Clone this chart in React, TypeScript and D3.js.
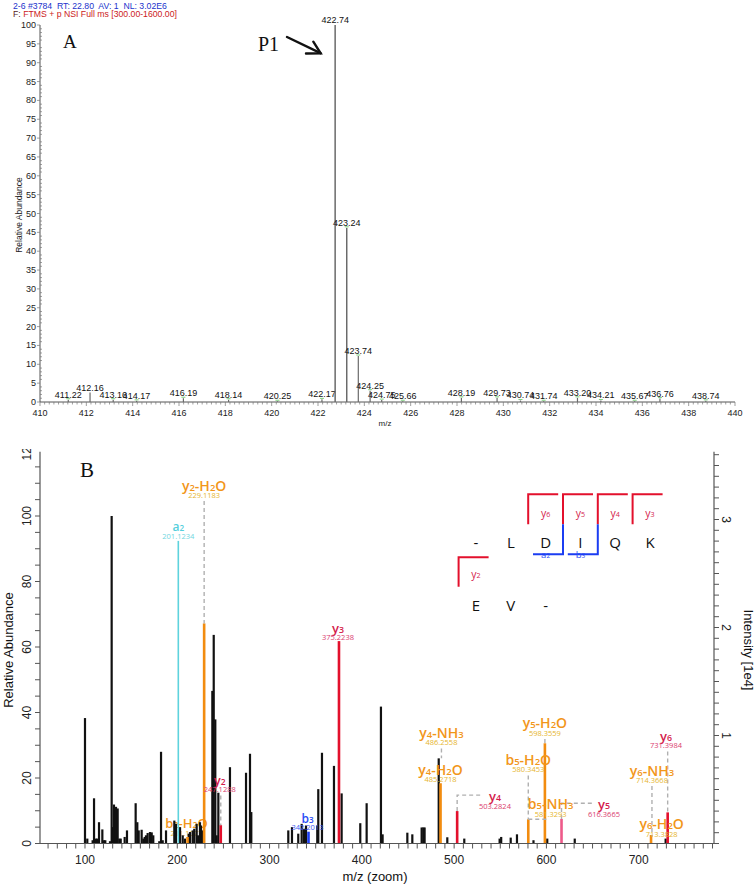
import React from "react";
import * as d3 from "d3";

// ---------------- Panel A data (full MS) ----------------
const headerLine1 = "2-6 #3784  RT: 22.80  AV: 1  NL: 3.02E6";
const headerLine2 = "FTMS + p NSI Full ms [300.00-1600.00]";
const msMz = [411.22, 412.16, 413.16, 414.17, 416.19, 418.14, 420.25, 422.17, 422.74, 423.24, 423.74, 424.25, 424.75, 425.66, 428.19, 429.73, 430.74, 431.74, 433.2, 434.21, 435.67, 436.76, 438.74];
const msAbund = [0.6, 2.5, 0.6, 0.3, 1.0, 0.6, 0.2, 0.7, 100, 46.2, 12.2, 3.0, 0.5, 0.2, 1.1, 1.1, 0.4, 0.2, 1.1, 0.4, 0.2, 0.9, 0.3];
const msXTicks = d3.range(410, 441, 2);
const msYTicks = d3.range(0, 101, 5);

// ---------------- Panel B data (MS/MS) ----------------
const fragMz = [100.0, 102.5, 108.3, 109.8, 111.9, 113.4, 115.2, 118.8, 120.6, 122.0, 127.1, 128.9, 130.0, 131.4, 133.6, 135.4, 137.2, 138.7, 143.0, 145.5, 154.9, 156.7, 158.2, 161.4, 163.2, 164.7, 166.1, 167.9, 170.4, 172.3, 174.0, 180.5, 182.4, 184.2, 187.8, 196.8, 198.6, 203.0, 205.9, 208.4, 212.4, 213.8, 216.7, 218.4, 221.0, 222.4, 224.6, 225.7, 227.1, 238.0, 239.5, 241.2, 242.7, 244.5, 257.1, 274.5, 278.8, 280.2, 320.3, 324.3, 331.1, 334.8, 337.3, 339.5, 351.7, 352.8, 356.8, 369.8, 378.1, 398.3, 405.2, 420.7, 422.5, 449.3, 454.7, 464.8, 466.6, 468.0, 483.3, 492.6, 511.0, 549.3, 551.0, 561.3, 568.1, 586.0, 600.9, 630.7, 729.2];
const fragRel = [38.3, 1.5, 1.0, 13.8, 1.5, 1.5, 6.5, 4.3, 1.0, 1.0, 0.7, 100, 5.0, 11.9, 11.2, 10.7, 1.5, 1.5, 2.0, 4.0, 12.3, 6.5, 4.0, 4.2, 1.5, 2.0, 2.5, 3.2, 3.5, 3.4, 2.5, 0.7, 28.0, 1.0, 4.0, 7.0, 6.0, 5.0, 2.5, 1.5, 3.0, 3.5, 4.0, 4.5, 6.0, 2.5, 6.5, 5.5, 4.0, 46.6, 63.7, 37.9, 2.5, 15.5, 23.3, 21.6, 27.4, 9.6, 4.0, 5.0, 3.0, 6.0, 4.5, 5.5, 5.5, 16.6, 27.7, 23.7, 15.3, 6.2, 12.3, 41.8, 2.8, 3.3, 2.8, 4.9, 4.9, 4.9, 26.0, 1.9, 1.5, 1.5, 2.0, 1.8, 2.8, 1.0, 1.5, 1.5, 1.5];

const ionNames = ["a2", "b2-H2O", "y2-H2O", "y2", "b3", "y3", "y4-NH3", "y4-H2O", "y4", "b5-H2O", "b5-NH3", "y5-H2O", "y5", "y6-NH3", "y6-H2O", "y6"];
const ionMz = [201.1234, 211.1077, 229.1183, 247.1288, 342.2013, 375.2238, 486.2558, 485.2718, 503.2824, 580.3453, 581.3293, 598.3559, 616.3665, 714.3668, 713.3828, 731.3984];
const ionMzText = ["201.1234", "211.1077", "229.1183", "247.1288", "342.2013", "375.2238", "486.2558", "485.2718", "503.2824", "580.3453", "581.3293", "598.3559", "616.3665", "714.3668", "713.3828", "731.3984"];
const ionRel = [92.4, 2.0, 67.2, 5.6, 3.6, 61.8, 26.0, 18.4, 9.9, 7.4, 7.4, 30.6, 7.5, 2.1, 2.6, 9.5];
const ionHasBar = [true, true, true, true, true, true, false, true, true, true, false, true, true, false, true, true];

const zoomTicks = [100, 200, 300, 400, 500, 600, 700];
const relTicks = [0, 20, 40, 60, 80, 100, 120];
const intTicks = [1, 2, 3];

const seqTop = ["-", "L", "D", "I", "Q", "K"];
const seqBottom = ["E", "V", "-"];
const yFragTop = ["y6", "y5", "y4", "y3"];
const bFrag = ["a2", "b3"];
const yFragBottom = ["y2"];

// label layout (pixel offsets), not data
type Conn = "none" | "v" | "elbow" | "h";
const ionLayout: { dx: number; lift: number; conn: Conn; rise?: number; run?: number; size: number; under?: boolean }[] = [
  { dx: 0, lift: 2, conn: "none", size: 12 },
  { dx: -1, lift: 1, conn: "none", size: 13, under: true },
  { dx: 0, lift: 125.4, conn: "v", size: 14 },
  { dx: -1, lift: 32.7, conn: "v", size: 12.5 },
  { dx: -1, lift: 1.7, conn: "none", size: 12 },
  { dx: -1, lift: 1, conn: "none", size: 13 },
  { dx: 0, lift: 12.9, conn: "v", size: 14 },
  { dx: 0, lift: 1.2, conn: "none", size: 14 },
  { dx: 37.8, lift: 2.1, conn: "elbow", rise: 16, run: 23, size: 13 },
  { dx: 0, lift: 46.8, conn: "v", size: 14 },
  { dx: 21.5, lift: 2.3, conn: "h", run: 18, size: 14 },
  { dx: 0, lift: 7.3, conn: "v", size: 14 },
  { dx: 42.5, lift: 2, conn: "elbow", rise: 15.7, run: 31.5, size: 13 },
  { dx: 0, lift: 53.6, conn: "v", size: 14 },
  { dx: 10.6, lift: -2, conn: "none", size: 14 },
  { dx: -1.7, lift: 63.9, conn: "v", size: 13 },
];

const ORANGE = "#f28c0f";
const RED = "#e3102c";
function ionColors(name: string) {
  if (name.startsWith("a")) return { bar: "#5ed3dd", label: "#55cfdc", num: "#6fd6e0" };
  if (name.includes("-")) return { bar: ORANGE, label: "#f2961a", num: "#e6b52c" };
  if (name.startsWith("b")) return { bar: "#1b3df2", label: "#2a4cf5", num: "#3a5af5" };
  if (name === "y5") return { bar: "#ee5a8a", label: "#d41c4c", num: "#da3c6e" };
  return { bar: RED, label: "#d41c4c", num: "#da3c6e" };
}

const SANS = "'Liberation Sans', Arial, sans-serif";
const ION_FONT = "'Open Sans', 'DejaVu Sans', sans-serif";
const SERIF = "'Liberation Serif', 'Times New Roman', serif";

function IonText({ name, x, y, size, fill, weight = 400 }: { name: string; x: number; y: number; size: number; fill: string; weight?: number }) {
  const parts = name.match(/(\d+|[^\d]+)/g) || [];
  return (
    <text x={x} y={y} fontSize={size} fill={fill} textAnchor="middle" fontFamily={ION_FONT} fontWeight={weight}>
      {parts.map((p, i) =>
        /\d/.test(p) ? (
          <tspan key={i} fontSize={size * 0.68}>{p}</tspan>
        ) : (
          <tspan key={i}>{p}</tspan>
        )
      )}
    </text>
  );
}

export default function App() {
  // ---- Panel A scales ----
  const xA = d3.scaleLinear().domain([410, 440]).range([40, 735]);
  const yA = d3.scaleLinear().domain([0, 100]).range([402, 25]);
  const xMinorA = d3.range(0, 151).map((i) => 410 + i * 0.2);
  const yMinorA = d3.range(0, 101);

  // ---- Panel B scales ----
  const xB = d3.scaleLinear().domain([51.25, 781.6]).range([40, 714]);
  const yB = d3.scaleLinear().domain([0, 100]).range([843.5, 516]);
  const yI = d3.scaleLinear().domain([0, 3]).range([843.5, 519.5]);
  const bTop = 451.7;
  const xMinorB = d3.range(60, 781, 10);
  const yMinorB = d3.range(0, 116, 5);
  const iMinor = d3.range(0, 37).map((i) => i * 0.1);

  const seqX = d3.scalePoint<number>().domain(d3.range(6)).range([476, 650]);
  const step = seqX.step();
  const cutX = (k: number) => (seqX(k)! - step / 2);

  const ions = ionNames.map((n, i) => {
    const x = xB(ionMz[i]);
    const top = yB(ionRel[i]);
    const L = ionLayout[i];
    const numBase = top - L.lift;
    return { name: n, x, top, L, numBase, nameBase: numBase - 7.5, col: ionColors(n), hasBar: ionHasBar[i], mzText: ionMzText[i] };
  });

  const renderLabel = (o: (typeof ions)[number], i: number) => (
    <g key={"lab" + i}>
      <IonText name={o.name} x={o.x + o.L.dx} y={o.nameBase} size={o.L.size} fill={o.col.label} weight={600} />
      <text x={o.x + o.L.dx} y={o.numBase} fontSize={7.5} fill={o.col.num} textAnchor="middle" fontFamily={ION_FONT}>
        {o.mzText}
      </text>
    </g>
  );

  return (
    <svg width={756} height={891} style={{ position: "absolute", left: 0, top: 0, background: "#fff" }}>
      <rect width={756} height={891} fill="#fff" />
      <defs>
        <clipPath id="leftLabClip">
          <rect x={0} y={449} width={40} height={430} />
        </clipPath>
      </defs>

      {/* ================= Panel A ================= */}
      <text x={13} y={8.5} fontSize={8.7} fill="#2233cc" fontFamily={SANS} xmlSpace="preserve">
        {headerLine1}
      </text>
      <text x={13} y={17} fontSize={8.7} fontFamily={SANS}>
        <tspan fill="#552222">F: </tspan>
        <tspan fill="#cc1a22">{headerLine2}</tspan>
      </text>

      {/* Y axis A */}
      <line x1={40} x2={40} y1={yA(100)} y2={yA(0)} stroke="#555" strokeWidth={1} />
      {yMinorA.map((v) => (
        <line key={"yma" + v} x1={40} x2={v % 5 === 0 ? 37 : 42} y1={yA(v)} y2={yA(v)} stroke="#777" strokeWidth={0.7} />
      ))}
      {msYTicks.map((v) => (
        <text key={"yta" + v} x={36} y={yA(v) + 3} fontSize={9} textAnchor="end" fill="#222" fontFamily={SANS}>
          {v}
        </text>
      ))}
      <text transform={`translate(22,215) rotate(-90)`} fontSize={8.5} textAnchor="middle" fill="#222" fontFamily={SANS}>
        Relative Abundance
      </text>

      {/* X axis A */}
      <line x1={40} x2={735} y1={402} y2={402} stroke="#555" strokeWidth={1} />
      {xMinorA.map((v, i) => (
        <line key={"xma" + i} x1={xA(v)} x2={xA(v)} y1={402} y2={i % 10 === 0 ? 406 : 404.5} stroke="#777" strokeWidth={0.7} />
      ))}
      {msXTicks.map((v) => (
        <text key={"xta" + v} x={xA(v)} y={416} fontSize={9} textAnchor="middle" fill="#222" fontFamily={SANS}>
          {v}
        </text>
      ))}
      <text x={385} y={426} fontSize={8} textAnchor="middle" fill="#222" fontFamily={SANS}>
        m/z
      </text>

      {/* Peaks A */}
      {msMz.map((m, i) => (
        <g key={"pa" + i}>
          <line x1={xA(m)} x2={xA(m)} y1={yA(0)} y2={yA(msAbund[i])} stroke="#6a6a6a" strokeWidth={msAbund[i] > 40 ? 1.5 : 1.2} />
          {msAbund[i] < 50 && m !== 412.16 ? (
            <line x1={xA(m) - 2} x2={xA(m) + 2} y1={yA(msAbund[i]) - 1} y2={yA(msAbund[i]) - 1} stroke="#7ed07e" strokeWidth={1} />
          ) : null}
          <text x={xA(m)} y={yA(msAbund[i]) - 2} fontSize={9} textAnchor="middle" fill="#111" fontFamily={SANS}>
            {m.toFixed(2)}
          </text>
        </g>
      ))}

      <text x={63} y={48} fontSize={19} fill="#111" fontFamily={SERIF}>
        A
      </text>
      <text x={258} y={51} fontSize={20} fill="#111" fontFamily={SERIF}>
        P1
      </text>
      <g stroke="#111" strokeWidth={2.4} fill="none" strokeLinecap="round">
        <line x1={287} y1={37} x2={320.5} y2={53.2} />
        <polyline points="306,53.5 320.7,53.3 313.3,41.7" />
      </g>

      {/* ================= Panel B ================= */}
      <text x={80} y={477} fontSize={21} fill="#111" fontFamily={SERIF}>
        B
      </text>

      {/* b2-H2O label beneath bars */}
      {ions.map((o, i) => (o.L.under ? renderLabel(o, i) : null))}

      {/* black peaks */}
      {fragMz.map((m, i) => (
        <rect key={"pb" + i} x={xB(m) - 1.1} width={2.2} y={yB(fragRel[i])} height={yB(0) - yB(fragRel[i])} fill="#111" />
      ))}

      {/* annotated peaks */}
      {ions.map((o, i) =>
        o.hasBar ? (
          <rect
            key={"ib" + i}
            x={o.x - (o.name.startsWith("a") ? 0.8 : 1.3)}
            width={o.name.startsWith("a") ? 1.6 : 2.6}
            y={o.top}
            height={yB(0) - o.top}
            fill={o.col.bar}
          />
        ) : null
      )}

      {/* connectors */}
      <g stroke="#b0b0b0" strokeWidth={1.4} strokeDasharray="4 3" fill="none">
        {ions.map((o, i) => {
          const L = o.L;
          if (L.conn === "v") return <line key={"c" + i} x1={o.x} x2={o.x} y1={o.numBase + 3} y2={o.top} />;
          if (L.conn === "elbow")
            return <polyline key={"c" + i} points={`${o.x},${o.top} ${o.x},${o.top - (L.rise || 0)} ${o.x + (L.run || 0)},${o.top - (L.rise || 0)}`} />;
          if (L.conn === "h") return <line key={"c" + i} x1={o.x - 0.9} x2={o.x - 0.9 + (L.run || 0)} y1={o.top} y2={o.top} />;
          return null;
        })}
      </g>

      {/* labels */}
      {ions.map((o, i) => (o.L.under ? null : renderLabel(o, i)))}

      {/* Axes B */}
      <line x1={40} x2={40} y1={bTop} y2={yB(0)} stroke="#555" strokeWidth={1.2} />
      <line x1={714} x2={714} y1={bTop} y2={yB(0)} stroke="#555" strokeWidth={1.2} />
      <line x1={40} x2={714} y1={yB(0)} y2={yB(0)} stroke="#555" strokeWidth={1.2} />
      {yMinorB.map((v) => (
        <line key={"ymb" + v} x1={35} x2={40} y1={yB(v)} y2={yB(v)} stroke="#555" strokeWidth={1} />
      ))}
      <g clipPath="url(#leftLabClip)">
        {relTicks.map((v) => (
          <text key={"ytb" + v} transform={`translate(31,${yB(v)}) rotate(-90)`} fontSize={12} textAnchor="middle" fill="#222" fontFamily={SANS}>
            {v}
          </text>
        ))}
      </g>
      <text transform={`translate(13,650) rotate(-90)`} fontSize={13} textAnchor="middle" fill="#111" fontFamily={SANS}>
        Relative Abundance
      </text>

      {iMinor.map((v, i) => (
        <line key={"im" + i} x1={714} x2={719} y1={yI(v)} y2={yI(v)} stroke="#555" strokeWidth={1} />
      ))}
      {intTicks.map((v) => (
        <text key={"it" + v} transform={`translate(722,${yI(v)}) rotate(90)`} fontSize={12} textAnchor="middle" fill="#222" fontFamily={SANS}>
          {v}
        </text>
      ))}
      <text transform={`translate(744,650) rotate(90)`} fontSize={13} textAnchor="middle" fill="#111" fontFamily={SANS}>
        Intensity [1e4]
      </text>

      {xMinorB.map((v) => (
        <line key={"xmb" + v} x1={xB(v)} x2={xB(v)} y1={yB(0)} y2={yB(0) + 5} stroke="#555" strokeWidth={1} />
      ))}
      {zoomTicks.map((v) => (
        <text key={"xtb" + v} x={xB(v)} y={864} fontSize={12} textAnchor="middle" fill="#222" fontFamily={SANS}>
          {v}
        </text>
      ))}
      <text x={375} y={881} fontSize={13} textAnchor="middle" fill="#111" fontFamily={SANS}>
        m/z (zoom)
      </text>

      {/* Fragment diagram */}
      <g fontFamily={ION_FONT}>
        {seqTop.map((s, i) => (
          <text key={"st" + i} x={seqX(i)} y={548} fontSize={15} textAnchor="middle" fill="#111">
            {s}
          </text>
        ))}
        {seqBottom.map((s, i) => (
          <text key={"sb" + i} x={seqX(i)} y={610.5} fontSize={15} textAnchor="middle" fill="#111">
            {s}
          </text>
        ))}
        {yFragTop.map((lab, j) => {
          const k = j + 2;
          const cx = cutX(k);
          return (
            <g key={"yf" + j}>
              <polyline points={`${cx},524.3 ${cx},494.3 ${cx + 30},494.3`} fill="none" stroke={RED} strokeWidth={2} />
              <IonText name={lab} x={seqX(k)!} y={517} size={10.5} fill="#d41c4c" />
            </g>
          );
        })}
        {bFrag.map((lab, j) => {
          const k = j + 3;
          const cx = cutX(k);
          return (
            <g key={"bf" + j}>
              <polyline points={`${cx},524.3 ${cx},554.3 ${cx - 30},554.3`} fill="none" stroke="#1b3df2" strokeWidth={2} />
              <IonText name={lab} x={seqX(k - 1)!} y={558} size={9.5} fill="#2a4cf5" />
            </g>
          );
        })}
        {yFragBottom.map((lab, j) => {
          const cx = cutX(0);
          return (
            <g key={"yb" + j}>
              <polyline points={`${cx},586.7 ${cx},557.3 ${cx + 30},557.3`} fill="none" stroke={RED} strokeWidth={2} />
              <IonText name={lab} x={seqX(0)!} y={578} size={10.5} fill="#d41c4c" />
            </g>
          );
        })}
      </g>
    </svg>
  );
}
